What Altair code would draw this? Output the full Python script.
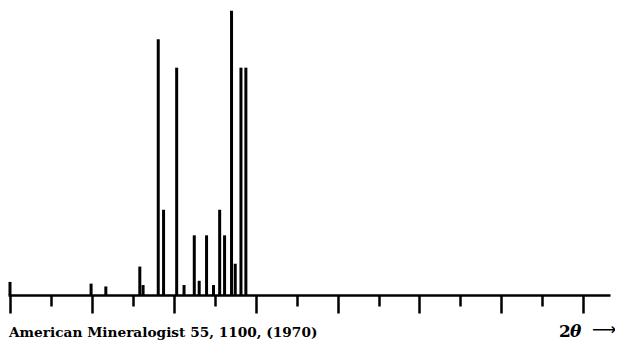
import altair as alt
import pandas as pd

# Peak positions (2-theta, degrees) and relative intensities
two_theta = [9.9, 11.7, 15.85, 16.25, 18.1, 18.75, 20.35, 21.25, 22.5, 23.1,
             24.0, 24.85, 25.6, 26.2, 27.05, 27.5, 28.2, 28.8]
intensity = [4, 3, 10, 3.5, 90, 30, 80, 3.5, 21, 5,
             21, 3.5, 30, 21, 100, 11, 80, 80]

source_text = ["American Mineralogist 55, 1100, (1970)"]
axis_label = ["2", "θ", "⟶"]
major_ticks = [0, 10, 20, 30, 40, 50, 60, 70]
minor_ticks = [5, 15, 25, 35, 45, 55, 65]
tick_values = sorted(major_ticks + minor_ticks)

peaks = pd.DataFrame({"two_theta": two_theta, "intensity": intensity})

x_scale = alt.Scale(domain=[-0.244, 73.26], nice=False, zero=False)
y_scale = alt.Scale(domain=[0, 101], nice=False, zero=True)

major_test = " || ".join(f"datum.value == {v}" for v in major_ticks)

bars = alt.Chart(peaks).mark_rule(color="black", strokeWidth=3, strokeCap="butt").encode(
    x=alt.X("two_theta:Q", scale=x_scale,
            axis=alt.Axis(values=tick_values, labels=False, title=None, grid=False,
                          domainColor="black", domainWidth=2.5,
                          tickColor="black", tickWidth=2.5,
                          tickSize={"condition": {"test": major_test, "value": 18}, "value": 11})),
    y=alt.Y("intensity:Q", scale=y_scale, axis=None),
    y2=alt.datum(0),
)

end_tick = alt.Chart(pd.DataFrame({"x": [major_ticks[0]], "y": [4.6]})).mark_rule(
    color="black", strokeWidth=3, strokeCap="butt").encode(
    x=alt.X("x:Q", scale=x_scale), y=alt.Y("y:Q", scale=y_scale), y2=alt.datum(0))

src = alt.Chart(pd.DataFrame({"t": source_text})).mark_text(
    align="left", baseline="alphabetic", font="DejaVu Serif", fontWeight="bold",
    fontSize=13.7, color="black").encode(
    text="t:N", x=alt.value(1), y=alt.value(329))

lab2 = alt.Chart(pd.DataFrame({"t": axis_label[:1]})).mark_text(
    align="left", baseline="alphabetic", font="DejaVu Serif", fontWeight="bold",
    fontSize=17, color="black").encode(text="t:N", x=alt.value(551), y=alt.value(329))
labth = alt.Chart(pd.DataFrame({"t": axis_label[1:2]})).mark_text(
    align="left", baseline="alphabetic", font="DejaVu Serif", fontWeight="bold",
    fontStyle="italic", fontSize=17, color="black").encode(text="t:N", x=alt.value(562), y=alt.value(329))
labar = alt.Chart(pd.DataFrame({"t": axis_label[2:]})).mark_text(
    align="left", baseline="alphabetic", font="DejaVu Sans",
    fontSize=17, color="black").encode(text="t:N", x=alt.value(584), y=alt.value(327))

chart = alt.layer(bars, end_tick, src, lab2, labth, labar).properties(
    width=602, height=287,
    autosize=alt.AutoSizeParams(type="none"),
    padding={"left": 0, "top": 0, "right": 5, "bottom": 46},
    background="white",
).configure_view(strokeWidth=0, stroke=None)

chart.save("out.html", embed_options={"renderer": "svg", "actions": False})
